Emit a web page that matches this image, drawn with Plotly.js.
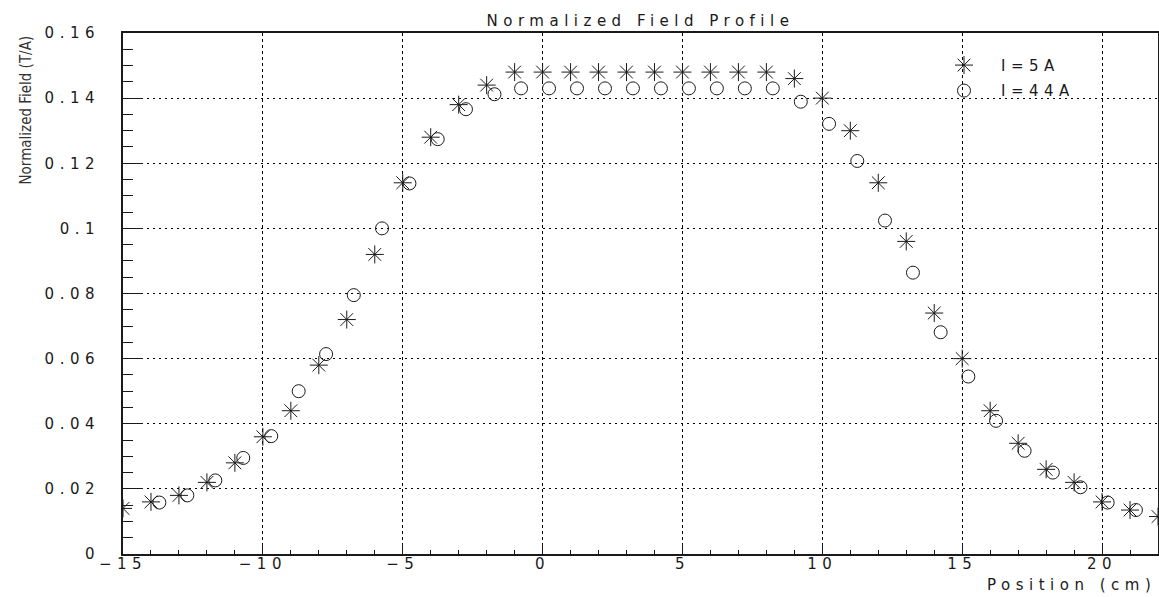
<!DOCTYPE html>
<html>
<head>
<meta charset="utf-8">
<script src="https://cdn.plot.ly/plotly-3.0.1.min.js"></script>
<style>
  html, body { margin: 0; padding: 0; background: #fff; }
  #chart { width: 1159px; height: 597px; }
  .xtick text, .ytick text, .gtitle, .legendtext { letter-spacing: 5.5px; }
</style>
</head>
<body>
<div id="chart"></div>
<script>
// I = 5A series (stars)
const pos5A = [-15,-14,-13,-12,-11,-10,-9,-8,-7,-6,-5,-4,-3,-2,-1,0,1,2,3,4,5,6,7,8,9,10,11,12,13,14,15,16,17,18,19,20,21,22];
const field5A = [0.014,0.016,0.018,0.022,0.028,0.036,0.044,0.058,0.072,0.092,0.114,0.128,0.138,0.144,
                 0.148,0.148,0.148,0.148,0.148,0.148,0.148,0.148,0.148,0.148,
                 0.146,0.140,0.130,0.114,0.096,0.074,0.060,0.044,0.034,0.026,0.022,0.016,0.0135,0.0115];
// I = 44A series (circles)
const pos44A = [-13.7,-12.7,-11.7,-10.7,-9.7,-8.72,-7.74,-6.75,-5.74,-4.76,-3.75,-2.74,-1.72,
                -0.77,0.23,1.23,2.23,3.23,4.23,5.23,6.23,7.23,8.23,
                9.23,10.24,11.25,12.24,13.24,14.23,15.22,16.21,17.23,18.24,19.23,20.2,21.21];
const field44A = [0.0158,0.018,0.0226,0.0295,0.0362,0.050,0.0614,0.0795,0.100,0.1138,0.1274,0.1366,0.1412,
                  0.143,0.143,0.143,0.143,0.143,0.143,0.143,0.143,0.143,0.143,
                  0.1389,0.1321,0.1207,0.1024,0.0864,0.0681,0.0545,0.0409,0.0317,0.025,0.0205,0.0158,0.0135];
const seriesNames = ['I=5A', 'I=44A'];
const chartTitle = 'Normalized Field Profile';
const xTitle = 'Position (cm)';
const yTitle = 'Normalized Field (T/A)';

const FONT = 'DejaVu Sans, Arial, sans-serif';
const INK = '#1a1a1a';

const traces = [
  {
    x: pos5A, y: field5A, name: seriesNames[0], legendgroup: 'g5', type: 'scatter', mode: 'markers',
    marker: { symbol: 'asterisk-open', size: 15, color: INK, line: { color: INK, width: 1 } }
  },
  {
    x: pos44A, y: field44A, name: seriesNames[1], legendgroup: 'g44', type: 'scatter', mode: 'markers',
    marker: { symbol: 'circle-open', size: 13, color: INK, line: { color: INK, width: 1 } }
  }
];

const layout = {
  width: 1159, height: 597,
  margin: { l: 123, r: 1, t: 33, b: 43, pad: 0 },
  paper_bgcolor: '#fff', plot_bgcolor: '#fff',
  font: { family: FONT, size: 15, color: INK },
  title: {
    text: chartTitle, font: { family: FONT, size: 15, color: INK },
    xref: 'paper', x: 0.5, xanchor: 'center',
    yref: 'container', y: 1 - 21 / 597, yanchor: 'middle'
  },
  showlegend: true,
  legend: {
    x: (927 - 123) / 1035, y: 0.9696, xanchor: 'left', yanchor: 'top',
    bgcolor: 'rgba(0,0,0,0)', borderwidth: 0,
    font: { family: FONT, size: 15, color: INK },
    itemwidth: 64, traceorder: 'grouped', tracegroupgap: 3
  },
  xaxis: {
    range: [-15, 22], tick0: 0, dtick: 5,
    ticks: 'inside', ticklen: 10, tickwidth: 1, tickcolor: INK,
    minor: { dtick: 1, ticks: 'inside', ticklen: 4, tickwidth: 1, tickcolor: INK, showgrid: false },
    showgrid: true, gridcolor: '#000', gridwidth: 1, griddash: 'dot',
    showline: true, linecolor: INK, linewidth: 2, mirror: true,
    zeroline: false,
    tickfont: { family: FONT, size: 15, color: INK },
    ticklabelstandoff: -5,
    fixedrange: true
  },
  yaxis: {
    range: [0, 0.16], tick0: 0, dtick: 0.02,
    ticks: 'inside', ticklen: 20, tickwidth: 1, tickcolor: INK,
    minor: { dtick: 0.005, ticks: 'inside', ticklen: 10, tickwidth: 1, tickcolor: INK, showgrid: false },
    showgrid: true, gridcolor: '#000', gridwidth: 1, griddash: '2px,4px',
    showline: true, linecolor: INK, linewidth: 2, mirror: true,
    zeroline: false,
    tickfont: { family: FONT, size: 15, color: INK },
    ticklabelstandoff: 18,
    fixedrange: true
  },
  annotations: [
    {
      text: yTitle, xref: 'paper', yref: 'paper',
      x: (25 - 123) / 1035, y: 1, xanchor: 'center', yanchor: 'top',
      textangle: -90, showarrow: false,
      font: { family: 'Liberation Sans Narrow, DejaVu Sans Condensed, Arial Narrow, sans-serif', size: 15, color: '#333' }
    },
    {
      text: '<span style="letter-spacing:5.5px">' + xTitle + '</span>', xref: 'paper', yref: 'paper',
      x: 1, y: (554 - 585) / 521, xanchor: 'right', yanchor: 'middle',
      showarrow: false,
      font: { family: FONT, size: 15, color: INK }
    }
  ]
};

Plotly.newPlot('chart', traces, layout, { displayModeBar: false, staticPlot: true });
</script>
</body>
</html>
